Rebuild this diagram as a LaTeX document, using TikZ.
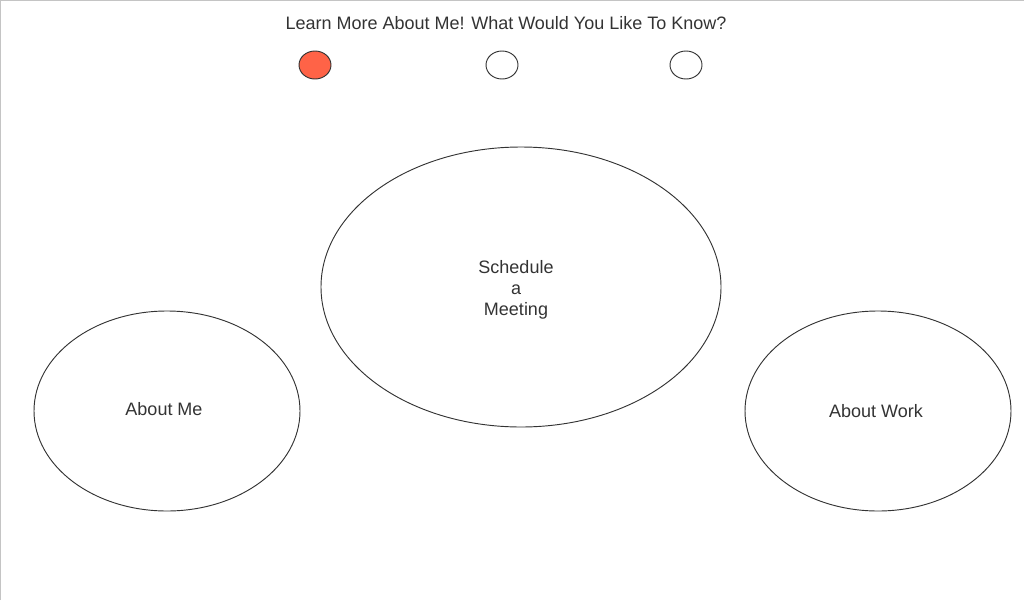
\documentclass[tikz,border=0pt]{standalone}
\usepackage{fontspec}
\setmainfont{Liberation Sans}
\usetikzlibrary{shapes.geometric}
\definecolor{inkgray}{HTML}{333333}
\definecolor{edgegray}{HTML}{C4C4C4}
\definecolor{dotred}{HTML}{FF6347}
\tikzset{
  bubble/.style={ellipse, draw=inkgray, line width=0.7pt, inner sep=0pt},
  bubbletext/.style={text=inkgray, inner sep=0pt, align=center,
    font=\fontsize{13.5pt}{15.75pt}\selectfont},
  dot/.style={ellipse, draw=inkgray, line width=0.7pt, inner sep=0pt,
    minimum width=24pt, minimum height=21pt}
}
\begin{document}
\begin{tikzpicture}[x=0.75pt, y=-0.75pt]
\useasboundingbox (0,0) rectangle (1024,600);
\draw[edgegray, line width=1pt] (0.5,600) -- (0.5,0.5) -- (1024,0.5);
\node[bubbletext] (title) at (506,23) {Learn More About Me! What Would You Like To Know?};
\node[dot, fill=dotred] (dot1) at (315,65) {};
\node[dot, fill=white] (dot2) at (502,65) {};
\node[dot, fill=white] (dot3) at (686,65) {};
\node[bubble, minimum width=300pt, minimum height=210pt] (meeting) at (521,287) {};
\node[bubble, minimum width=199.5pt, minimum height=150pt] (aboutme) at (167,411) {};
\node[bubble, minimum width=199.5pt, minimum height=150pt] (aboutwork) at (878,411) {};
\node[bubbletext] (meetingtext) at ([shift={(-5,3)}]meeting.center) {Schedule\\a\\Meeting};
\node[bubbletext] (aboutmetext) at ([shift={(-3,-2)}]aboutme.center) {About Me};
\node[bubbletext] (aboutworktext) at ([shift={(-2,0)}]aboutwork.center) {About Work};
\end{tikzpicture}
\end{document}
